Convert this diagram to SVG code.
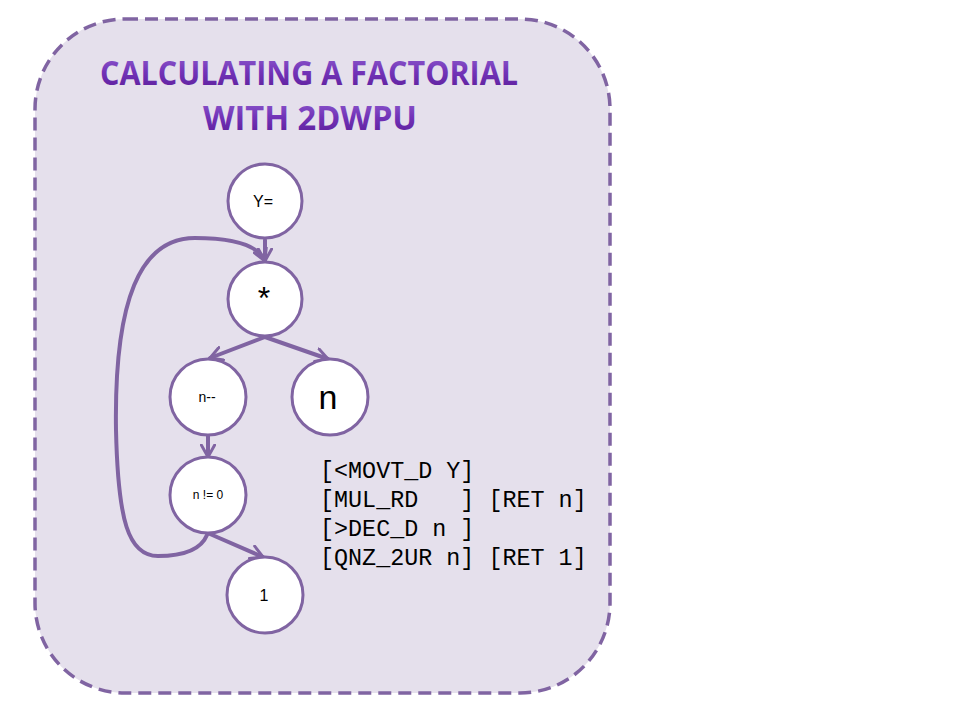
<svg xmlns="http://www.w3.org/2000/svg" width="960" height="720" viewBox="0 0 960 720">
<style>
.node circle{fill:#fff;stroke:#8064A2;stroke-width:3}
.node text{font-family:"Liberation Sans","DejaVu Sans",sans-serif;fill:#000;text-anchor:middle}
.edge{fill:none;stroke:#8064A2;stroke-width:4;stroke-linecap:round}
.code{font-family:"Liberation Mono","DejaVu Sans Mono",monospace;font-size:23.4px;fill:#000}
.title{font-family:"Open Sans","Liberation Sans",sans-serif;font-weight:bold;font-size:34px;text-anchor:middle}
</style>
<defs>
<marker id="arr" viewBox="0 0 12 12" refX="10" refY="6" markerWidth="4" markerHeight="4" orient="auto" markerUnits="strokeWidth">
<path d="M1,1 L10,6 L1,11" fill="none" stroke="#8064A2" stroke-width="2.2" stroke-linejoin="round" stroke-linecap="round"/>
</marker>
<linearGradient id="tg" x1="0" y1="0" x2="0" y2="1">
<stop offset="0" stop-color="#9566D2"/>
<stop offset="0.5" stop-color="#7233B8"/>
<stop offset="1" stop-color="#581A94"/>
</linearGradient>
</defs>
<rect width="960" height="720" fill="#fff"/>
<rect id="frame" x="35" y="19" width="575" height="674" rx="90" ry="90" fill="#E5E0EC" stroke="#8064A2" stroke-width="3.5" stroke-dasharray="13,7"/>
<g id="title">
<text class="title" x="309" y="85" textLength="418" lengthAdjust="spacingAndGlyphs" fill="url(#tg)">CALCULATING A FACTORIAL</text>
<text class="title" x="310" y="130" textLength="214" lengthAdjust="spacingAndGlyphs" fill="url(#tg)">WITH 2DWPU</text>
</g>
<g id="connectors">
<path class="edge" d="M265,240 L265,261" marker-end="url(#arr)"/>
<path class="edge" d="M265,337 L210,358" marker-end="url(#arr)"/>
<path class="edge" d="M265,337 L328,359" marker-end="url(#arr)"/>
<path class="edge" d="M208,436 L208,457" marker-end="url(#arr)"/>
<path class="edge" d="M210,534 L263,557" marker-end="url(#arr)"/>
<path class="edge" d="M207,535 C200,552 180,556 158,556 C128,556 118,520 116,430 C114,300 140,238 195,238 C235,238 258,245 265,261" marker-end="url(#arr)"/>
</g>
<g id="node-Y" class="node"><circle cx="265" cy="201" r="37"/><text x="263" y="207" font-size="16">Y=</text></g>
<g id="node-mul" class="node"><circle cx="265" cy="299" r="37"/><text x="264" y="309" font-size="32">*</text></g>
<g id="node-dec" class="node"><circle cx="208" cy="397" r="38"/><text x="207" y="402" font-size="14">n--</text></g>
<g id="node-n" class="node"><circle cx="330" cy="397" r="38"/><text x="328" y="409" font-size="34">n</text></g>
<g id="node-nz" class="node"><circle cx="208" cy="495" r="38"/><text x="208" y="499" font-size="12">n != 0</text></g>
<g id="node-1" class="node"><circle cx="265" cy="595" r="38"/><text x="264" y="601" font-size="16">1</text></g>
<g id="code">
<text class="code" x="320" y="478" xml:space="preserve">[&lt;MOVT_D Y]</text>
<text class="code" x="320" y="507" xml:space="preserve">[MUL_RD   ] [RET n]</text>
<text class="code" x="320" y="536" xml:space="preserve">[&gt;DEC_D n ]</text>
<text class="code" x="320" y="565" xml:space="preserve">[QNZ_2UR n] [RET 1]</text>
</g>
</svg>
